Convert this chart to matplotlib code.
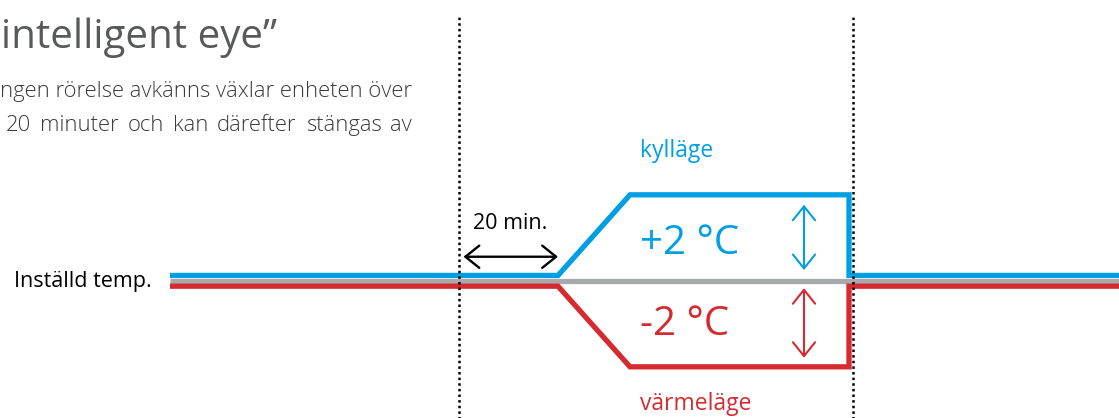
import matplotlib
matplotlib.use("Agg")
import matplotlib.pyplot as plt
from matplotlib.patches import FancyArrowPatch

plt.rcParams['font.family'] = ['Open Sans', 'DejaVu Sans']

# ---- data (x in minutes relative to motion stop, y in °C offset) ----
BLUE = "#009fe3"
RED = "#d52b30"
GRAY = "#a7a9ac"

# time breakpoints (minutes)
t_start = -57.8          # start of lines
t_switch = 19.8          # enters energy-saving after 20 min
t_ramp_end = 34.2        # reaches full offset
t_return = 78.0          # motion detected again
t_end = 132.2

cool_offset = 2.0        # kylläge +2 °C
heat_offset = -2.0       # värmeläge -2 °C
band = 0.125             # separation of the three lines at set temp

cool_t = [t_start, t_switch, t_ramp_end, t_return, t_return, t_end]
cool_y = [band, band, cool_offset, cool_offset, band, band]
heat_t = [t_start, t_switch, t_ramp_end, t_return, t_return, t_end]
heat_y = [-band, -band, heat_offset, heat_offset, -band, -band]
set_t = [t_start, t_end]
set_y = [0, 0]

marker_times = [0.0, 78.8]

fig = plt.figure(figsize=(11.19, 4.18), dpi=100)
ax = fig.add_axes([0, 0, 1, 1])
ax.set_xlim(-91.8, 132.0)
ax.set_ylim(-3.19, 6.53)
ax.axis('off')

lw = 3.8
ax.plot(set_t, set_y, color=GRAY, lw=lw, solid_capstyle='butt', zorder=2)
ax.plot(cool_t, cool_y, color=BLUE, lw=lw, solid_joinstyle='miter', solid_capstyle='butt', zorder=3)
ax.plot(heat_t, heat_y, color=RED, lw=lw, solid_joinstyle='miter', solid_capstyle='butt', zorder=3)

for t in marker_times:
    ax.plot([t, t], [-3.3, 6.16], color='black', lw=1.8, linestyle=(0, (1, 1.25)), zorder=5)

arrow_kw = dict(arrowstyle='<->,head_length=10,head_width=8', mutation_scale=1,
                shrinkA=0, shrinkB=0, zorder=6)
# 20 min arrow
ax.add_patch(FancyArrowPatch((0.9, 0.56), (19.8, 0.56), color='black', lw=1.7, **arrow_kw))
ax.text(10.3, 1.21, "20 min.", ha='center', va='baseline', fontsize=15.5, color='black')

# offset arrows
ax.add_patch(FancyArrowPatch((69.0, 0.25), (69.0, 1.77), color=BLUE, lw=1.5, **arrow_kw))
ax.add_patch(FancyArrowPatch((69.0, -0.17), (69.0, -1.79), color=RED, lw=1.5, **arrow_kw))

ax.text(36.2, 0.63, "+2 °C", ha='left', va='baseline', fontsize=29, color=BLUE)
ax.text(36.2, -1.256, "-2 °C", ha='left', va='baseline', fontsize=29, color=RED)
ax.text(36.2, 2.88, "kylläge", ha='left', va='baseline', fontsize=16.5, color=BLUE)
ax.text(36.2, -3.0, "värmeläge", ha='left', va='baseline', fontsize=16.5, color=RED)

ax.text(-61.5, -0.14, "Inställd temp.", ha='right', va='baseline', fontsize=15.5, color='black')

# title and paragraph
ax.text(-91.6, 5.42, "intelligent eye”", ha='left', va='baseline', fontsize=29, color='#58595b')

para1 = "ngen rörelse avkänns växlar enheten över"
para2 = "20 minuter och kan därefter stängas av"
para_color = '#3a3a3a'
para_fs = 15.8
para_w = 'light'
# right-aligned first line
ax.text(-9.4, 4.28, para1, ha='right', va='baseline', fontsize=para_fs, color=para_color,
        fontweight=para_w)

# justified second line between x=-90.6 and x=-9.4
words = para2.split()
left, right = -90.6, -9.4
texts = [ax.text(left, 3.49, w, ha='left', va='baseline', fontsize=para_fs, color=para_color,
                 fontweight=para_w)
         for w in words]
fig.canvas.draw()
r = fig.canvas.get_renderer()
inv = ax.transData.inverted()
widths = []
for tx in texts:
    bb = tx.get_window_extent(renderer=r)
    x0 = inv.transform((bb.x0, 0))[0]
    x1 = inv.transform((bb.x1, 0))[0]
    widths.append(x1 - x0)
gap = (right - left - sum(widths)) / (len(words) - 1)
x = left
for tx, w in zip(texts, widths):
    tx.set_x(x)
    x += w + gap

fig.savefig("out.png", dpi=100)
